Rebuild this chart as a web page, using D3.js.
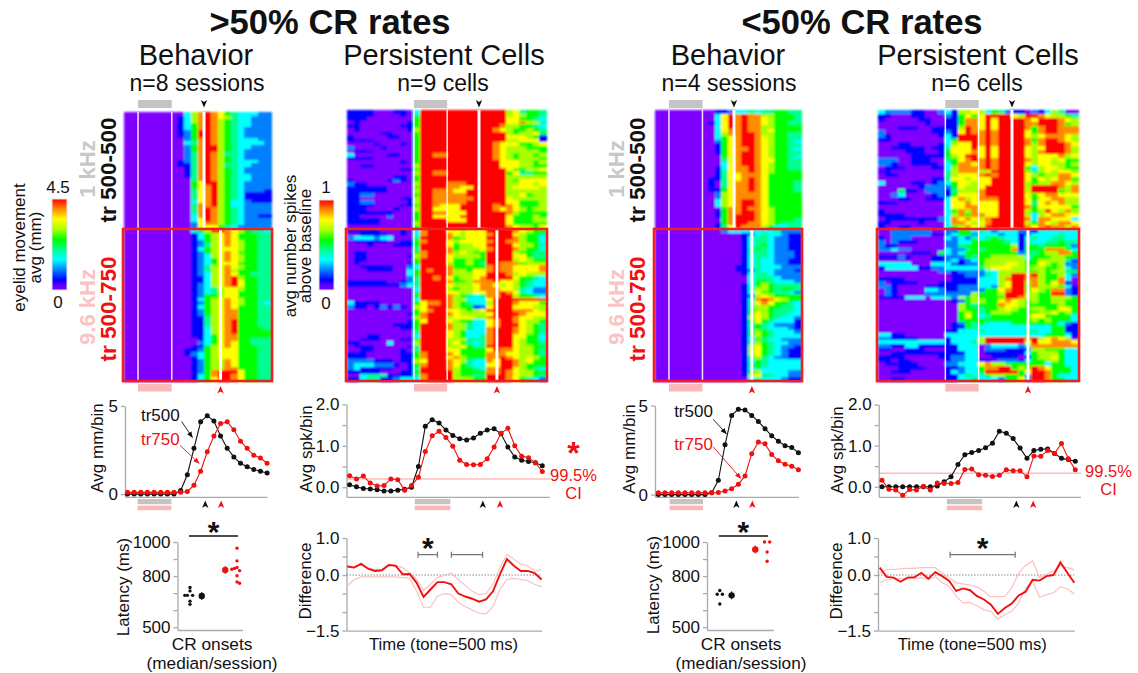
<!DOCTYPE html>
<html>
<head>
<meta charset="utf-8">
<script src="https://cdn.jsdelivr.net/npm/d3@7"></script>
<style>
  html, body { margin: 0; background: #fff; }
  svg { display: block; }
  text { font-family: "Liberation Sans", Arial, sans-serif; fill: #111; }
  .axis path, .axis line { stroke: #aaa; stroke-width: 1.3; fill: none; }
  .axis text { font-size: 17px; font-family: "Liberation Sans", Arial, sans-serif; fill: #111; }
</style>
</head>
<body>
<svg id="chart" width="1138" height="673"></svg>
<script>
// heat rows: one digit per bin, 0 (purple, no response) .. 9 (red, saturated)
var behaviorHighTr500 = [
"0000000003689875433322","0000000013689876433222","0000000013689865433222","0000000013589865433222",
"0000000013589865432222","0000000012599865432222","0000000012599865432222","0000000002589865433322",
"0000000003489865433332","0000000002589965433222","0000000002589965432222","0000000002489864432222",
"0000000002489865432222","0000000012489865433322","0000000011489864433222","0000000001489865432222",
"0000000001489865432222","0000000001489865433222","0000000000489865433222","0000000000579965432222",
"0000000000578965432222","0000000000478965432221","0000000000478965431111","0000000000478965431111",
"0000000000378965332111","0000000000488965332222","0000000000489865432222","0000000000489865432222",
"0000000000389865432211","0000000000379865432222","0000000000278865432222","0000000000277754322222"];
var behaviorHighTr750 = [
"0000000000356998765443","0000000000135678755544","0000000000135678755544","0000000000125678765544",
"0000000000124678765544","0000000000135677765544","0000000000125678755544","0000000000123678765544",
"0000000000123578765544","0000000000123577755544","0000000000124678765544","0000000000124678655544",
"0000000000123678755444","0000000000113678965544","0000000000113678975544","0000000000123678975544",
"0000000000123467765544","0000000000123467755544","0000000000125567755544","0000000000135678765544",
"0000000000125678765543","0000000000135678755544","0000000000125678855544","0000000000125678855544",
"0000000000114678855544","0000000000114678955544","0000000000114678955544","0000000000113678955554",
"0000000000113678955555","0000000000113578855555","0000000000013578855444","0000000000023578755444",
"0000000000115678755544","0000000001125677755544","0000000001235677755544","0000000000135677755544",
"0000000000125668755544","0000000000125668755544","0000000000125668855544","0000000000125899975544",
"0000000000135899875544","0000000000135799875544"];
var behaviorLowTr500 = [
"0000000001123343445544","0000000003798988665554","0000000003798988765554","0000000013798988765544",
"0000000003798988665555","0000000003788988675555","0000000003688998665544","0000000003578998765544",
"0000000002578998765543","0000000001578998765544","0000000001578898765543","0000000001578998765544",
"0000000000578998765543","0000000000478998775544","0000000000378998765544","0000000001378898765544",
"0000000001478898765555","0000000001477888755555","0000000011477898755555","0000000010478898755554",
"0000000010478898755554","0000000011578898755554","0000000002678888755555","0000000002678888755555",
"0000000003678998755555","0000000003678998755555","0000000000588988765555","0000000001588998765555",
"0000000001589998765555","0000000000589998765554","0000000001589988765444","0000000001479888653344"];
var behaviorLowTr750 = [
"0000000000233333334222","0000000000000123433211","0000000000000134432211","0000000000000134432211",
"0000000000000134532211","0000000000000145432211","0000000000000144432221","0000000000000134432221",
"0000000000000134332211","0000000000000134332211","0000000000001134333222","0000000000001124332221",
"0000000000000134432222","0000000000000034443222","0000000000000035543332","0000000000000135654444",
"0000000000000146654554","0000000000000137554432","0000000000000126765555","0000000000000148987655",
"0000000000000147875543","0000000000000146655443","0000000000000156654443","0000000000000157654433",
"0000000000000167654332","0000000000000157543331","0000000000000145432221","0000000000000145433321",
"0000000000000156543332","0000000000000146543333","0000000000000135433222","0000000000000146543322",
"0000000000000167543221","0000000000000167543211","0000000000000167543211","0000000000000156432211",
"0000000000000135433333","0000000000000155433333","0000000000000134333333","0000000000000156333322",
"0000000000000167543322","0000000000000034333211"];
var cellsHighTr500 = [
"111100011039999999999999674554","111100001049999999999999676554","111000000059999999999999775543",
"010000000159999999999999778664","110000001159999999999998665543","010000000169999999999987655654",
"000001100059999999999999656675","100000110059999999999999777651","111100000059999999999999667771",
"000010001059999999999987775567","200001000059999999999987666555","011100000059999999999987666665",
"300000110059988999999987656656","111100000059999999999987656665","000000001059999999999997776656",
"001100000069999999999997776655","000000001159999999999999755667","000000000069988999999999574455",
"000000011059999999999999666666","100000121059999999999999657777","211000000069999888999999667767",
"111111000059999887799999677776","111111000069988877999999666666","112200000059988888999999667566",
"110000001169988888899999766666","112200000169988888999999775556","111100001159987779999989875556",
"111000010069977779999987876566","111111100059988777999999865555","110000200059977779999999755565",
"111110000059999777999999755566","111110000069999999999999755555","000000000059999999999999876657"];
var cellsHighTr750 = [
"111110001038999776777999987655","001111001038999876777899976554","233323300049999856777999986553",
"011111001158999767777899886553","000100011159999756677999976654","000000000049999856667899986553",
"011000000058999867655999965545","011000000168999766665999977544","011000000059999755655999967655",
"010000000159999655654998885666","001111100239999855555898877778","000111100359899866577898877778",
"000000000359999866677999867666","000000000249989756678999975543","111111001249999855688897765433",
"111111112349999766678876765433","000000000039999656678887764322","000000000049999776677889874322",
"000000000059999865434889965543","000000000039999866333799999999","311110000057889865433699987775",
"211012121067999865512799977766","000000000057899776567999988876","000000000158999876666799998777",
"000000000068999677766899987766","000000000157999765533789987665","000000011159999866433789997654",
"000000001159999866433899987654","000000000049999765333899987654","000110000039999765334899977553",
"001110001159999666444899976553","110000300069999675434899976554","011100000149999667544999976655",
"001100001049999775555798876654","111000001158999875555888776654","111000001158999786555889876765",
"222211101167999876433879986755","233322210158999875433779986555","231111100149999865543889976543",
"111110001159999965555889876655","003444111148999965544999876654","113441123338999966655999875432"];
var cellsLowTr500 = [
"322221100231667635421102136400","110001100021575799997699876654","100000110011588797999987999876",
"000000010011588797999988999856","000111001111698797999985899888","200000001121798898999975899888",
"210000000131999898999976788876","110000000035999898999985899876","000110000136779898999986899987",
"001111101147779797999976799986","000011100157778797999976899986","000001111156799797999976777867",
"222001110045789898999986776755","221001111035887898999976776656","011100001136888898999953677655",
"110000000046888669999964676776","011000000046777898999976566887","000000001147767779999975767885",
"300001101235776779999965668876","000000122225766799999969999868","000511022214666899999969999568",
"002300001215777899999975788777","000110011137867888999975778866","111000000037787777999974787866",
"000000000037788777999985777775","100000000035868777999965697686","111100000036858877999963678877",
"011111111238787689999983887773","110000100038876789999965876887","100110000035687699999987898868"];
var cellsLowTr750 = [
"002222220022553432333221333333","002222221123552333233123333433","102220000032324345433134334433",
"202111000022335555543143344544","211000000022455555556155455542","223220000032245455558155588853",
"000001110532355555555254566885","111210001122254556666635556655","000000001123123566666655666641",
"333330003332122566677655765622","133333112233333467776656655632","000000000221222233666655656655",
"000000000001122243669989655632","111100000001111333689988655830","201111000111111333679958657810",
"221000011111222332679958666531","021000033211222255789957658821","021000022222226555699966559921",
"111133303342656555599866556665","000000000001256655787656556655","000000000000654555877655555655",
"000000000000655455676556655775","000000000000565456665555667565","000000000000575345555557755553",
"000000000000555555555556565553","000000000001254533335555555321","000000000001154333333333335511",
"000000000011333433333344335511","331100000033333333333343355531","221111000013333699999989678760",
"333333333313334699999979778887","221133111111333023333248888888","110011100011333022211116655533",
"001111111111133011111135666533","111100000112233001111015667533","110110000012233110222135566533",
"011111000022333786645555535533","000111100011233588995659875553","001110000013233599999579985553",
"000000000011353356655529985333","001100000011335333255729985533"];

// line panels, mean per bin
var mmHighTr500 = [0,0,0,0,0,0,0,0,0.2,1.1,2.6,4.1,4.45,4.15,3.3,2.6,2.1,1.75,1.55,1.4,1.3,1.2];
var mmHighTr750 = [0.1,0.1,0.1,0.1,0.1,0.1,0.1,0.1,0.1,0.15,0.5,1.3,2.4,3.3,4.0,4.1,3.65,3.0,2.6,2.2,2.05,1.75];
var mmLowTr500 = [0,0,0,0,0,0,0,0,0.1,0.8,2.8,4.45,4.8,4.75,4.45,4.1,3.7,3.3,3.0,2.75,2.65,2.35];
var mmLowTr750 = [0.1,0.1,0.1,0.1,0.1,0.1,0.1,0.1,0.1,0.12,0.2,0.33,0.58,1.05,2.3,2.95,2.85,2.25,1.9,1.7,1.6,1.4];
var spkHighTr500 = [.06,.01,-.03,-.04,-.06,-.09,-.09,-.07,-.05,0,.5,1.47,1.63,1.55,1.38,1.25,1.17,1.14,1.19,1.3,1.38,1.41,1.29,.97,.73,.65,.62,.59,.52];
var spkHighTr750 = [.28,.2,.27,.1,.03,.04,.2,.18,-.07,.04,.24,.86,1.24,1.35,1.2,.99,.65,.55,.54,.55,.69,.97,1.3,1.42,1,.75,.71,.59,.38];
var spkLowTr500 = [0,0,0,0,0,0,0,0,.02,.12,.24,.54,.78,.83,.88,.95,1.06,1.35,1.3,1.17,.94,.69,.88,.91,.92,.81,.69,.66,.62];
var spkLowTr750 = [.16,-.06,-.08,-.21,-.07,-.08,.01,-.08,.09,.08,.08,.1,.42,.43,.29,.28,.25,.28,.41,.39,.39,.24,.75,.74,.88,.81,1.05,.68,.41];
var ciHigh = 0.2, ciLow = 0.33;

// difference panels: mean and the two confidence traces
var diffHigh = [.23,.2,.3,.17,.11,.13,.27,.25,.02,.03,-.21,-.59,-.39,-.19,-.19,-.25,-.5,-.58,-.64,-.72,-.66,-.44,.02,.43,.25,.11,.11,.05,-.12];
var diffHighUp = [.25,.22,.32,.19,.15,.15,.29,.26,.2,.06,-.12,-.41,-.25,-.07,-.01,.05,-.12,-.28,-.44,-.53,-.5,-.25,.2,.56,.43,.29,.25,.11,.15];
var diffHighDn = [-.3,-.12,-.05,-.05,-.05,-.05,-.05,-.05,-.07,-.09,-.44,-.87,-.87,-.57,-.5,-.53,-.74,-.85,-.94,-1.03,-1.05,-.85,-.39,-.12,-.09,-.12,-.15,-.25,-.32];
var diffLow = [.2,-.05,-.07,-.18,-.07,-.06,.06,-.1,.08,-.03,-.16,-.43,-.36,-.41,-.57,-.66,-.8,-1.05,-.89,-.77,-.55,-.45,-.13,-.15,-.03,0,.34,.06,-.21];
var diffLowUp = [.05,.15,.15,.17,.18,.18,.2,.2,.2,.05,-.07,-.21,-.24,-.27,-.32,-.44,-.59,-.58,-.58,-.35,.05,.26,.38,-.07,.02,.11,.25,.2,.14];
var diffLowDn = [-.21,-.12,-.1,-.1,-.1,-.1,-.07,-.12,-.05,-.21,-.3,-.57,-.75,-.74,-.83,-.94,-.98,-1.19,-1.07,-.98,-.75,-.35,-.16,-.6,-.53,-.48,-.32,-.37,-.51];

// CR onset latencies per session (ms), slot is the place in the swarm
var latHighTr500 = [733,713,687,687,687,653,634];
var latHighTr500Slot = [0,0,-2,-1,1,0,0];
var latHighTr750 = [964,889,845,832,850,840,802,766,758];
var latHighTr750Slot = [0,0,-1,1,0,-2,0,0,1];
var latLowTr500 = [693,715,693,636];
var latLowTr500Slot = [-1,0,1,0];
var latLowTr750 = [1000,1000,941,887];
var latLowTr750Slot = [-1,1,0,0];
var latMediansHigh = [683, 836];
var latMediansLow = [687, 956];

var toneBehavior = [2.1, 7.15];
var toneCells = [10.1, 15.1];
var latencyTicks = [500, 600, 700, 800, 900, 1000];
var latencyLabels = [500, 800, 1000];
var diffTicks = [-1.5, -1, -0.5, 0, 0.5, 1];
var diffLabels = [-1.5, 0, 1];

var RED = "#f01010", PINK = "#fbb8b8", GREY = "#c4c4c4";

var svg = d3.select("#chart");
var defs = svg.append("defs");
defs.append("filter").attr("id", "soft").attr("x", "-2%").attr("y", "-2%").attr("width", "104%").attr("height", "104%")
  .append("feGaussianBlur").attr("stdDeviation", 0.8);

var heatColor = d3.scaleLinear()
  .domain([0, 0.4, 1, 2, 3, 4, 5, 6, 7, 8, 9])
  .range(["#7f00ff", "#6a00ff", "#0000ff", "#0080ff", "#00ffff", "#00ff90", "#00ff00", "#a8ff00", "#ffff00", "#ff8c00", "#ff0000"]);

function label(x, y, txt, size, opts) {
  opts = opts || {};
  var t = svg.append("text")
    .attr("text-anchor", opts.anchor || "middle")
    .attr("font-size", size)
    .attr("font-weight", opts.bold ? "bold" : "normal")
    .style("fill", opts.color || "#111")
    .text(txt);
  if (opts.rotate) {
    t.attr("transform", "translate(" + x + "," + y + ") rotate(-90)");
  } else {
    t.attr("x", x).attr("y", y);
  }
  return t;
}

function arrowMark(x, y, color, dir) {
  svg.append("path")
    .attr("d", "M0,0L3.2,7.5L0,5.6L-3.2,7.5Z")
    .attr("fill", color)
    .attr("transform", "translate(" + x + "," + y + ")" + (dir === "down" ? " scale(1,-1)" : ""));
}

function heatBlock(rows, nBins, x, yTop, yBottom, g) {
  var y = d3.scaleBand().domain(d3.range(rows.length)).range([yTop, yBottom]);
  var row = g.selectAll("g.row" + yTop).data(rows).enter().append("g").attr("class", "row" + yTop);
  row.selectAll("rect")
    .data(function(d, i) {
      return d.slice(0, nBins).split("").map(function(c, j) { return { bin: j, row: i, v: +c }; });
    })
    .enter().append("rect")
    .attr("x", function(d) { return x(d.bin); })
    .attr("y", function(d) { return y(d.row); })
    .attr("width", x(1) - x(0) + 0.6)
    .attr("height", y.bandwidth() + 0.6)
    .attr("shape-rendering", "crispEdges")
    .attr("fill", function(d) { return heatColor(d.v); });
}

function heatPanel(p) {
  var x = d3.scaleLinear().domain([0, p.nBins]).range([p.x0, p.x1]);
  var yMid = 229;
  var g = svg.append("g").attr("filter", "url(#soft)");
  heatBlock(p.top, p.nBins, x, p.yTop, yMid, g);
  heatBlock(p.bottom, p.nBins, x, yMid, 381, g);

  // tone on/off lines and the two puff times
  p.tone.forEach(function(b) {
    svg.append("line").attr("x1", x(b)).attr("x2", x(b)).attr("y1", p.yTop).attr("y2", 381)
      .attr("stroke", "#fff").attr("stroke-width", 1.5).attr("stroke-opacity", 0.9);
  });
  svg.append("line").attr("x1", x(p.us[0])).attr("x2", x(p.us[0])).attr("y1", p.yTop).attr("y2", yMid)
    .attr("stroke", "#fff").attr("stroke-width", 3);
  svg.append("line").attr("x1", x(p.us[1])).attr("x2", x(p.us[1])).attr("y1", yMid).attr("y2", 381)
    .attr("stroke", "#fff").attr("stroke-width", 3);

  svg.append("rect").attr("x", p.x0 - 1).attr("y", yMid).attr("width", p.x1 - p.x0 + 2).attr("height", 152)
    .attr("fill", "none").attr("stroke", "#ee2024").attr("stroke-width", 2.6);

  svg.append("rect").attr("x", x(p.tone[0])).attr("y", 100).attr("width", x(p.tone[1]) - x(p.tone[0])).attr("height", 8).attr("fill", GREY);
  svg.append("rect").attr("x", x(p.tone[0])).attr("y", 384).attr("width", x(p.tone[1]) - x(p.tone[0])).attr("height", 7.5).attr("fill", PINK);
  arrowMark(x(p.us[0]), 107.5, "#111", "down");
  arrowMark(x(p.us[1]), 386, RED, "up");
}

function colorBar(x, yTop, yBottom, id) {
  var grad = defs.append("linearGradient").attr("id", id).attr("x1", 0).attr("x2", 0).attr("y1", 1).attr("y2", 0);
  d3.range(0, 9.01, 0.5).forEach(function(v) {
    grad.append("stop").attr("offset", v / 9).attr("stop-color", heatColor(v));
  });
  svg.append("rect").attr("x", x).attr("y", yTop).attr("width", 15).attr("height", yBottom - yTop)
    .attr("fill", "url(#" + id + ")").attr("stroke", "#e2e2e2").attr("stroke-width", 1);
}

function linePanel(p) {
  var n = p.black.length;
  var x = d3.scaleLinear().domain([0, n - 1]).range([p.x0, p.x1]);
  var y = d3.scaleLinear().domain(p.yDomain).range(p.yRange);
  var g = svg.append("g");

  g.append("g").attr("class", "axis").attr("transform", "translate(" + p.axisX + ",0)")
    .call(d3.axisLeft(y).tickValues(p.ticks).tickSize(4).tickSizeOuter(0)
      .tickFormat(function(d) { return p.labels.indexOf(d) > -1 ? (p.fmt ? d3.format(p.fmt)(d) : d) : ""; }));
  g.append("g").attr("class", "axis").attr("transform", "translate(0," + p.yRange[0] + ")")
    .call(d3.axisBottom(d3.scaleLinear().range([p.axisX, p.axisEnd])).tickValues([]).tickSizeOuter(0));

  if (p.ci !== undefined) {
    g.append("line").attr("x1", p.axisX).attr("x2", p.axisEnd + 1).attr("y1", y(p.ci)).attr("y2", y(p.ci))
      .attr("stroke", "#f99").attr("stroke-width", 1);
  }

  var line = d3.line().x(function(d, i) { return x(i); }).y(function(d) { return y(d); });
  [[p.black, "#111"], [p.red, RED]].forEach(function(s) {
    g.append("path").attr("d", line(s[0])).attr("fill", "none").attr("stroke", s[1]).attr("stroke-width", 1.1);
    g.selectAll(null).data(s[0]).enter().append("circle")
      .attr("cx", function(d, i) { return x(i); })
      .attr("cy", function(d) { return y(d); })
      .attr("r", 2.5)
      .attr("fill", s[1]);
  });

  g.append("rect").attr("x", x(p.bar[0])).attr("y", 499).attr("width", x(p.bar[1]) - x(p.bar[0])).attr("height", 5.2).attr("fill", GREY);
  g.append("rect").attr("x", x(p.bar[0])).attr("y", 505.6).attr("width", x(p.bar[1]) - x(p.bar[0])).attr("height", 4.6).attr("fill", PINK);
  arrowMark(x(p.us[0]), 500.5, "#111", "up");
  arrowMark(x(p.us[1]), 500.5, RED, "up");
}

function latencyPanel(p) {
  var y = d3.scaleLinear().domain([483.6, 1000]).range([630, 542]);
  var x = d3.scaleLinear().domain([0, 3]).range(p.xRange);
  var g = svg.append("g");
  g.append("g").attr("class", "axis").attr("transform", "translate(" + p.axisX + ",0)")
    .call(d3.axisLeft(y).tickValues(latencyTicks).tickSize(4).tickSizeOuter(0)
      .tickFormat(function(d) { return latencyLabels.indexOf(d) > -1 ? d : ""; }));
  g.append("g").attr("class", "axis").attr("transform", "translate(0,630)")
    .call(d3.axisBottom(d3.scaleLinear().range([p.axisX, p.axisEnd])).tickValues([]).tickSizeOuter(0));

  function swarm(vals, slots, pos, color) {
    g.selectAll(null).data(vals).enter().append("circle")
      .attr("cx", function(d, i) { return x(pos) + slots[i] * 2.6; })
      .attr("cy", function(d) { return y(d); })
      .attr("r", 1.7)
      .attr("fill", color);
  }
  swarm(p.black, p.blackSlot, 0, "#111");
  swarm(p.red, p.redSlot, 3, RED);
  [[0.75, p.medians[0], "#111"], [2.25, p.medians[1], RED]].forEach(function(m) {
    g.append("line").attr("x1", x(m[0])).attr("x2", x(m[0])).attr("y1", y(m[1]) - 4).attr("y2", y(m[1]) + 4)
      .attr("stroke", m[2]).attr("stroke-width", 1);
    g.append("circle").attr("cx", x(m[0])).attr("cy", y(m[1])).attr("r", 3.2).attr("fill", m[2]);
  });

  g.append("line").attr("x1", x(0) - 1).attr("x2", x(3) + 1).attr("y1", 536).attr("y2", 536).attr("stroke", "#111").attr("stroke-width", 1.3);
  label((x(0) + x(3)) / 2, 542, "*", 30, { bold: true });
}

function diffPanel(p) {
  var n = p.mean.length;
  var x = d3.scaleLinear().domain([0, n - 1]).range([p.x0, p.x1]);
  var y = d3.scaleLinear().domain([-1.5, 1]).range([630.6, 538]);
  var g = svg.append("g");
  g.append("g").attr("class", "axis").attr("transform", "translate(" + p.axisX + ",0)")
    .call(d3.axisLeft(y).tickValues(diffTicks).tickSize(4).tickSizeOuter(0)
      .tickFormat(function(d) { return diffLabels.indexOf(d) > -1 ? d3.format(".1f")(d) : ""; }));
  g.append("g").attr("class", "axis").attr("transform", "translate(0,630.6)")
    .call(d3.axisBottom(d3.scaleLinear().range([p.axisX, p.x1])).tickValues([]).tickSizeOuter(0));
  g.append("line").attr("x1", p.axisX).attr("x2", p.x1).attr("y1", y(0)).attr("y2", y(0))
    .attr("stroke", "#888").attr("stroke-width", 1).attr("stroke-dasharray", "1.5,1.5");

  var line = d3.line().x(function(d, i) { return x(i); }).y(function(d) { return y(d); });
  [p.up, p.down].forEach(function(s) {
    g.append("path").attr("d", line(s)).attr("fill", "none").attr("stroke", "#fcc0c0").attr("stroke-width", 1.2);
  });
  g.append("path").attr("d", line(p.mean)).attr("fill", "none").attr("stroke", RED).attr("stroke-width", 1.9);

  p.brackets.forEach(function(b) {
    var path = d3.path();
    path.moveTo(x(b[0]), y(0.55) - 3); path.lineTo(x(b[0]), y(0.55) + 3);
    path.moveTo(x(b[0]), y(0.55)); path.lineTo(x(b[1]), y(0.55));
    path.moveTo(x(b[1]), y(0.55) - 3); path.lineTo(x(b[1]), y(0.55) + 3);
    g.append("path").attr("d", path.toString()).attr("fill", "none").attr("stroke", "#777").attr("stroke-width", 1.2);
    if (b[2]) label((x(b[0]) + x(b[1])) / 2, 558, "*", 30, { bold: true });
  });
}

// annotation arrows for tr500/tr750
function pointer(x1, y1, x2, y2, color) {
  var id = "tip" + color.replace("#", "");
  if (defs.select("#" + id).empty()) {
    defs.append("marker").attr("id", id).attr("viewBox", "0 -5 10 10").attr("refX", 9)
      .attr("markerWidth", 7).attr("markerHeight", 7).attr("orient", "auto")
      .append("path").attr("d", "M0,-4L10,0L0,4Z").attr("fill", color);
  }
  svg.append("line").attr("x1", x1).attr("y1", y1).attr("x2", x2).attr("y2", y2)
    .attr("stroke", color).attr("stroke-width", 0.9).attr("marker-end", "url(#" + id + ")");
}

heatPanel({ nBins: 22, x0: 124, x1: 271, yTop: 112, top: behaviorHighTr500, bottom: behaviorHighTr750, tone: toneBehavior, us: [11.97, 14.45] });
heatPanel({ nBins: 30, x0: 347, x1: 546, yTop: 110, top: cellsHighTr500, bottom: cellsHighTr750, tone: toneCells, us: [19.9, 22.6] });
heatPanel({ nBins: 22, x0: 655, x1: 801, yTop: 110, top: behaviorLowTr500, bottom: behaviorLowTr750, tone: toneBehavior, us: [11.9, 14.6] });
heatPanel({ nBins: 30, x0: 878, x1: 1078, yTop: 110, top: cellsLowTr500, bottom: cellsLowTr750, tone: toneCells, us: [20.1, 22.5] });

colorBar(52, 199, 290, "barMm");
colorBar(319, 200, 290, "barSpk");

linePanel({ black: mmHighTr500, red: mmHighTr750, x0: 127.5, x1: 267.1, axisX: 125, axisEnd: 267, yDomain: [-0.154, 5], yRange: [496.8, 406], ticks: [0, 5], labels: [0, 5], bar: [1.52, 6.6], us: [11.7, 14.08] });
linePanel({ black: spkHighTr500, red: spkHighTr750, x0: 349.6, x1: 542.3, axisX: 346.5, axisEnd: 549.4, yDomain: [-0.23, 2], yRange: [496.8, 404.3], ticks: [0, 0.5, 1, 1.5, 2], labels: [0, 1, 2], fmt: ".1f", ci: ciHigh, bar: [9.48, 14.64], us: [19.36, 21.86] });
linePanel({ black: mmLowTr500, red: mmLowTr750, x0: 658.3, x1: 798.4, axisX: 655, axisEnd: 798.4, yDomain: [-0.123, 5], yRange: [496.8, 405.6], ticks: [0, 5], labels: [0, 5], bar: [1.7, 6.7], us: [11.7, 14.1] });
linePanel({ black: spkLowTr500, red: spkLowTr750, x0: 882, x1: 1075.3, axisX: 878.7, axisEnd: 1080.4, yDomain: [-0.245, 2], yRange: [496.8, 404.5], ticks: [0, 0.5, 1, 1.5, 2], labels: [0, 1, 2], fmt: ".1f", ci: ciLow, bar: [9.4, 14.5], us: [19.46, 21.9] });

latencyPanel({ axisX: 177.5, axisEnd: 242.4, xRange: [190, 237], black: latHighTr500, blackSlot: latHighTr500Slot, red: latHighTr750, redSlot: latHighTr750Slot, medians: latMediansHigh });
latencyPanel({ axisX: 707, axisEnd: 773.3, xRange: [719.8, 767.1], black: latLowTr500, blackSlot: latLowTr500Slot, red: latLowTr750, redSlot: latLowTr750Slot, medians: latMediansLow });

diffPanel({ mean: diffHigh, up: diffHighUp, down: diffHighDn, x0: 347.2, x1: 541.6, axisX: 346.5, brackets: [[10.2, 13, true], [15, 19.5, false]] });
diffPanel({ mean: diffLow, up: diffLowUp, down: diffLowDn, x0: 879.7, x1: 1074.3, axisX: 878, brackets: [[10.13, 19.5, true]] });

// titles
label(330, 34, ">50% CR rates", 34.6, { bold: true });
label(862, 34, "<50% CR rates", 34.6, { bold: true });
label(196, 65, "Behavior", 29);
label(444, 65, "Persistent Cells", 29);
label(728, 65, "Behavior", 29);
label(978, 65, "Persistent Cells", 29);
label(197, 91, "n=8 sessions", 23);
label(443, 91, "n=9 cells", 23);
label(729, 91, "n=4 sessions", 23);
label(977, 91, "n=6 cells", 23);

// row labels
[0, 529].forEach(function(dx) {
  label(95 + dx, 169, "1 kHz", 22, { bold: true, rotate: true, color: "#c8c8c8" });
  label(116 + dx, 170, "tr 500-500", 22.5, { bold: true, rotate: true, color: "#111" });
  label(95 + dx, 307, "9.6 kHz", 22, { bold: true, rotate: true, color: "#fbc4c4" });
  label(116 + dx, 309, "tr 500-750", 22.5, { bold: true, rotate: true, color: RED });
});

// colour bars
label(58, 193, "4.5", 17);
label(58, 308, "0", 17);
label(25, 247.5, "eyelid movement", 17, { rotate: true });
label(41, 247.5, "avg (mm)", 17, { rotate: true });
label(326, 193, "1", 17);
label(326, 309, "0", 17);
label(296, 246, "avg number spikes", 17, { rotate: true });
label(311, 246, "above baseline", 17, { rotate: true });

// line panel texts
label(103, 448, "Avg mm/bin", 17, { rotate: true });
label(312, 449, "Avg spk/bin", 17, { rotate: true });
label(634.5, 449, "Avg mm/bin", 17, { rotate: true });
label(843, 450, "Avg spk/bin", 17, { rotate: true });
label(160.3, 421, "tr500", 17);
label(160.3, 445, "tr750", 17, { color: RED });
label(693.5, 417, "tr500", 17);
label(693.5, 450, "tr750", 17, { color: RED });
pointer(181.6, 421.5, 192.4, 437.4, "#111111");
pointer(179.9, 445.2, 199.1, 463.4, RED);
pointer(713.2, 419.3, 726.3, 433.7, "#111111");
pointer(713.2, 446.8, 740.7, 478.3, RED);
label(573.5, 464, "*", 32, { bold: true, color: RED });
label(573.5, 481, "99.5%", 16.5, { color: RED });
label(573.5, 499, "CI", 16.5, { color: RED });
label(1108.5, 477, "99.5%", 16.5, { color: RED });
label(1108.5, 495, "CI", 16.5, { color: RED });

// bottom row texts
label(129, 587, "Latency (ms)", 17, { rotate: true });
label(659, 585, "Latency (ms)", 17, { rotate: true });
label(212, 650, "CR onsets", 17.3);
label(212, 669, "(median/session)", 17.2);
label(741, 650, "CR onsets", 17.3);
label(741, 669, "(median/session)", 17.2);
label(311, 581, "Difference", 17, { rotate: true });
label(842, 581, "Difference", 17, { rotate: true });
label(443.6, 650, "Time (tone=500 ms)", 16.7);
label(972.3, 650, "Time (tone=500 ms)", 16.7);
</script>
</body>
</html>
